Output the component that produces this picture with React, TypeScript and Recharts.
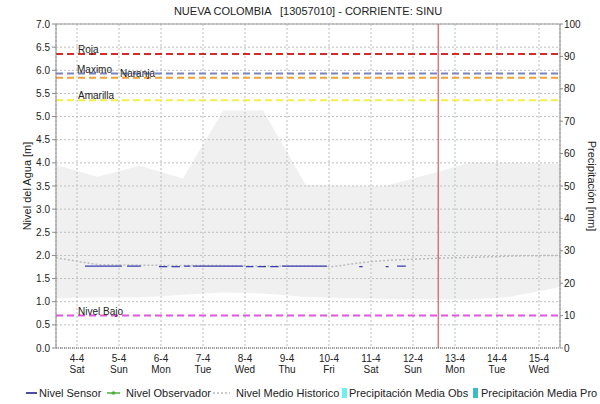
import {
  Area,
  CartesianGrid,
  ComposedChart,
  Legend,
  Line,
  ReferenceLine,
  XAxis,
  YAxis,
} from "recharts";

const dateLabels = ["4-4", "5-4", "6-4", "7-4", "8-4", "9-4", "10-4", "11-4", "12-4", "13-4", "14-4", "15-4"];
const dayLabels = ["Sat", "Sun", "Mon", "Tue", "Wed", "Thu", "Fri", "Sat", "Sun", "Mon", "Tue", "Wed"];
const dayTicks = [0, 1, 2, 3, 4, 5, 6, 7, 8, 9, 10, 11];

const levelTicks = [0, 0.5, 1, 1.5, 2, 2.5, 3, 3.5, 4, 4.5, 5, 5.5, 6, 6.5, 7];
const rainTicks = [0, 10, 20, 30, 40, 50, 60, 70, 80, 90, 100];

// historic band (grey envelope), x in days from 4-4
const bandX = [-0.5, 0.48, 1.5, 2.52, 3.48, 4.43, 5.45, 7.29, 8.6, 9.36, 10.3, 11.5];
const bandHigh = [3.96, 3.7, 3.94, 3.66, 5.13, 5.13, 3.52, 3.49, 3.81, 4.01, 4.0, 3.97];
const bandLow = [1.08, 1.09, 1.09, 1.15, 1.2, 1.18, 1.1, 1.06, 1.05, 1.05, 1.1, 1.32];

// nivel medio historico
const histX = [-0.5, 0.1, 0.5, 1.5, 2.5, 3.5, 4.5, 5.5, 6.1, 6.9, 7.5, 8.6, 9.5, 10.5, 11.5];
const histY = [1.95, 1.86, 1.8, 1.79, 1.78, 1.78, 1.77, 1.77, 1.76, 1.86, 1.9, 1.94, 1.96, 1.99, 2.0];

// precipitacion: no values in this period
const rainX: number[] = [];
const rainObs: number[] = [];

// nivel sensor, pieces with gaps
const sensorSegments = [
  [0.19, 1.07], [1.19, 1.52], [1.95, 2.15], [2.25, 2.45], [2.55, 2.7], [2.76, 3.95],
  [4.02, 4.2], [4.3, 4.5], [4.6, 4.8], [4.88, 5.95], [6.72, 6.8], [7.35, 7.42], [7.62, 7.83],
];
const sensorLevels = [1.77, 1.77, 1.76, 1.76, 1.77, 1.77, 1.76, 1.76, 1.76, 1.77, 1.76, 1.76, 1.77];

const thresholds = [
  { name: "Roja", value: 6.35, color: "#d42a2a", dx: 22 },
  { name: "Maximo", value: 5.93, color: "#7b83bd", dx: 21 },
  { name: "Naranja", value: 5.84, color: "#eea23a", dx: 64 },
  { name: "Amarilla", value: 5.35, color: "#f4ee48", dx: 22 },
  { name: "Nivel Bajo", value: 0.7, color: "#e056e0", dx: 22 },
];

const nowMark = 8.6;

const bandData = bandX.map((x, i) => ({ x, range: [bandLow[i], bandHigh[i]] }));
const histData = histX.map((x, i) => ({ x, y: histY[i] }));
const rainData = rainX.map((x, i) => ({ x, y: rainObs[i] }));
const sensorData = sensorSegments.flatMap(([a, b], i) => [
  { x: a, y: sensorLevels[i] },
  { x: b, y: sensorLevels[i] },
  { x: b + 0.01, y: null },
]);

const FONT = "'Liberation Sans', Arial, sans-serif";

function DayTick({ x, y, payload }: any) {
  const i = Math.round(payload.value);
  return (
    <g>
      <text x={x} y={y + 14} textAnchor="middle" fontSize={10} fill="#222">
        {dateLabels[i]}
      </text>
      <text x={x} y={y + 25} textAnchor="middle" fontSize={10} fill="#222">
        {dayLabels[i]}
      </text>
    </g>
  );
}

const lineLabel = (text: string, dx: number) => (props: any) => {
  const vb = props.viewBox;
  return (
    <text x={vb.x + dx} y={vb.y - 1} fontSize={10} fill="#222">
      {text}
    </text>
  );
};

function ChartLegend() {
  const item = (left: number): React.CSSProperties => ({
    position: "absolute",
    left,
    top: 0,
    height: 26,
    display: "flex",
    alignItems: "center",
    paddingTop: 4,
    boxSizing: "border-box",
  });
  const txt: React.CSSProperties = { fontSize: 11, color: "#222", whiteSpace: "nowrap" };
  return (
    <div style={{ position: "relative", width: 600, height: 26 }}>
      <div style={item(26)}>
        <svg width={12} height={10}>
          <line x1={0} y1={5} x2={11} y2={5} stroke="#101080" strokeWidth={1.5} />
        </svg>
        <span style={{ ...txt, marginLeft: 1 }}>Nivel Sensor</span>
      </div>
      <div style={item(107)}>
        <svg width={16} height={10}>
          <line x1={0} y1={5} x2={13} y2={5} stroke="#4caf3c" strokeWidth={1.5} />
          <circle cx={6.5} cy={5} r={1.8} fill="#4caf3c" />
        </svg>
        <span style={{ ...txt, marginLeft: 3 }}>Nivel Observador</span>
      </div>
      <div style={item(213)}>
        <svg width={20} height={10}>
          <line x1={0} y1={5} x2={17} y2={5} stroke="#bbb" strokeWidth={1.5} strokeDasharray="2 2" />
        </svg>
        <span style={{ ...txt, marginLeft: 3 }}>Nivel Medio Historico</span>
      </div>
      <div style={item(342)}>
        <div style={{ width: 5, height: 10, background: "#6ff0f0" }} />
        <span style={{ ...txt, marginLeft: 2 }}>Precipitación Media Obs</span>
      </div>
      <div style={item(473)}>
        <div style={{ width: 5, height: 10, background: "#3cbcbc" }} />
        <span style={{ ...txt, marginLeft: 3 }}>Precipitación Media Pro</span>
      </div>
    </div>
  );
}

export default function App() {
  return (
    <div
      style={{
        position: "absolute",
        left: 0,
        top: 0,
        width: 600,
        height: 404,
        background: "#fff",
        fontFamily: FONT,
      }}
    >
      <div
        style={{
          position: "absolute",
          left: 56,
          top: 5,
          width: 504,
          textAlign: "center",
          fontSize: 11,
          lineHeight: "12px",
          color: "#222",
          whiteSpace: "pre",
        }}
      >
        {"NUEVA COLOMBIA   [13057010] - CORRIENTE: SINU"}
      </div>
      <ComposedChart width={600} height={404} margin={{ top: 24, right: 0, bottom: 0, left: 0 }}>
        <CartesianGrid yAxisId="left" strokeDasharray="2 2" stroke="#bdbdbd" />
        <XAxis
          dataKey="x"
          type="number"
          domain={[-0.5, 11.5]}
          ticks={dayTicks}
          interval={0}
          allowDataOverflow
          height={30}
          tickLine={false}
          tickSize={0}
          tickMargin={0}
          axisLine={{ stroke: "#555", strokeDasharray: "1 1" }}
          tick={<DayTick />}
        />
        <YAxis
          yAxisId="left"
          domain={[0, 7]}
          ticks={levelTicks}
          interval={0}
          allowDataOverflow
          width={56}
          tickSize={4}
          tickMargin={2}
          tickFormatter={(v: number) => v.toFixed(1)}
          tick={{ fontSize: 10, fill: "#222" }}
          axisLine={{ stroke: "#8a8a8a" }}
          tickLine={{ stroke: "#8a8a8a" }}
          label={() => (
            <text
              x={27}
              y={186}
              transform="rotate(-90 27 186)"
              textAnchor="middle"
              dominantBaseline="central"
              fontSize={11}
              fill="#222"
            >
              Nivel del Agua [m]
            </text>
          )}
        />
        <YAxis
          yAxisId="right"
          orientation="right"
          type="number"
          domain={[0, 100]}
          ticks={rainTicks}
          interval={0}
          allowDataOverflow
          width={40}
          tickSize={3}
          tickMargin={1}
          tick={{ fontSize: 10, fill: "#222" }}
          axisLine={{ stroke: "#8a8a8a" }}
          tickLine={{ stroke: "#8a8a8a" }}
          label={() => (
            <text
              x={592}
              y={186}
              transform="rotate(90 592 186)"
              textAnchor="middle"
              dominantBaseline="central"
              fontSize={11}
              fill="#222"
            >
              Precipitación [mm]
            </text>
          )}
        />
        <Area
          yAxisId="left"
          data={bandData}
          dataKey="range"
          type="linear"
          stroke="none"
          fill="#c8c8c8"
          fillOpacity={0.27}
          isAnimationActive={false}
          legendType="none"
        />
        <Line
          yAxisId="right"
          data={rainData}
          dataKey="y"
          stroke="#6ff0f0"
          dot={false}
          isAnimationActive={false}
        />
        <Line
          yAxisId="left"
          data={histData}
          dataKey="y"
          type="linear"
          stroke="#bcbcbc"
          strokeWidth={1.5}
          strokeDasharray="2 2"
          dot={false}
          isAnimationActive={false}
        />
        <Line
          yAxisId="left"
          data={sensorData}
          dataKey="y"
          type="linear"
          stroke="#3b3bb0"
          strokeWidth={1.3}
          dot={false}
          connectNulls={false}
          isAnimationActive={false}
        />
        <ReferenceLine yAxisId="left" y={7} stroke="#9a9a9a" />
        {thresholds.map((t) => (
          <ReferenceLine
            key={t.name}
            yAxisId="left"
            y={t.value}
            stroke={t.color}
            strokeWidth={2}
            strokeDasharray="7 4"
            label={lineLabel(t.name, t.dx)}
          />
        ))}
        <ReferenceLine yAxisId="left" x={nowMark} stroke="#d03a4a" strokeWidth={1} />
        <Legend
          verticalAlign="bottom"
          wrapperStyle={{ left: 0, width: 600, height: 26 }}
          content={() => <ChartLegend />}
        />
      </ComposedChart>
    </div>
  );
}
